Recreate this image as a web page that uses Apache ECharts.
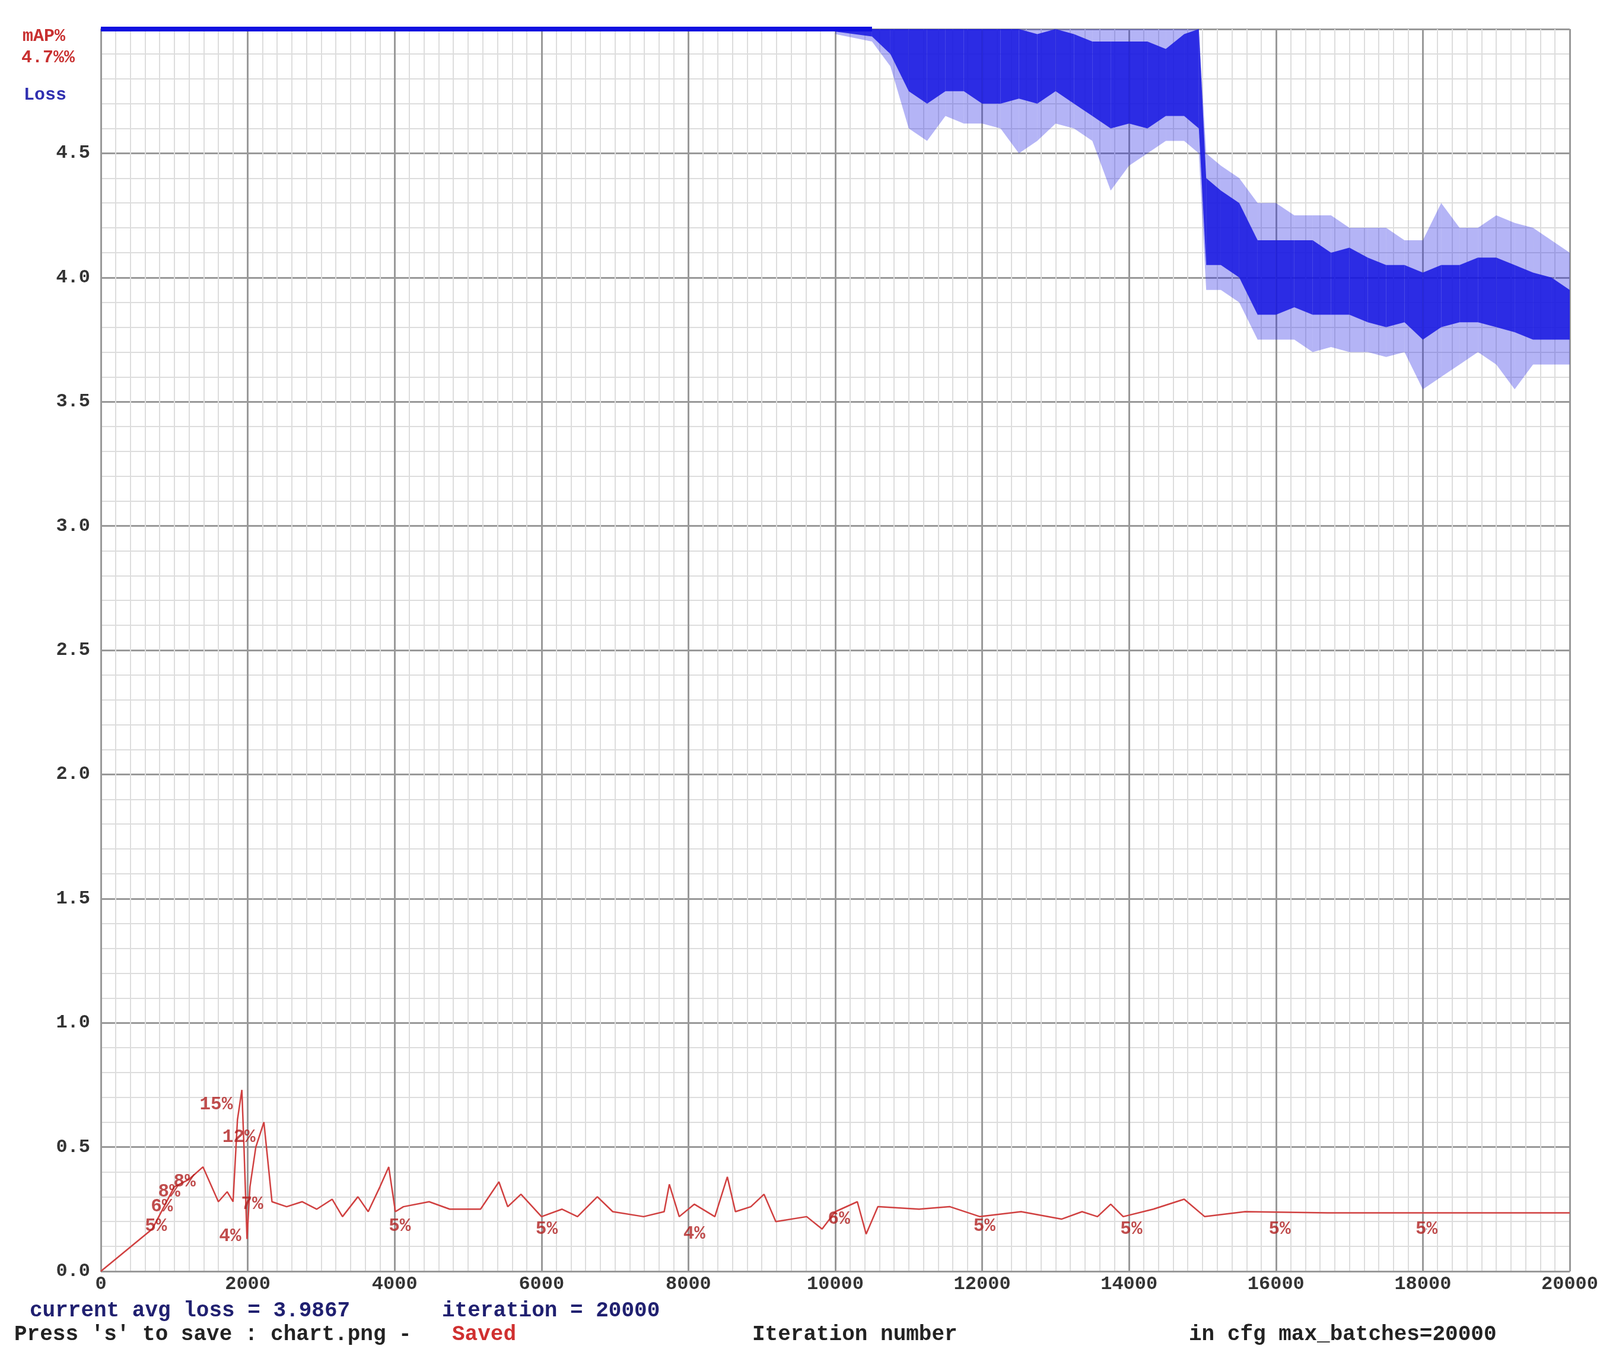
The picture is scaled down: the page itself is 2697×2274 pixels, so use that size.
<!DOCTYPE html>
<html>
<head>
<meta charset="utf-8">
<script src="https://cdn.jsdelivr.net/npm/echarts@6/dist/echarts.min.js"></script>
<style>html,body{margin:0;padding:0;background:#fff}#c{width:2697px;height:2274px}</style>
</head>
<body>
<div id="c"></div>
<script>
// loss band (iteration, core low/high, outer low/high)
var lossIter = [10000,10500,10750,11000,11250,11500,11750,12000,12250,12500,12750,13000,13250,13500,13750,14000,14250,14500,14750,14950,15050,15250,15500,15750,16000,16250,16500,16750,17000,17250,17500,17750,18000,18250,18500,18750,19000,19250,19500,19750,20000];
var lossLow  = [4.99,4.97,4.9,4.75,4.7,4.75,4.75,4.7,4.7,4.72,4.7,4.75,4.7,4.65,4.6,4.62,4.6,4.65,4.65,4.6,4.05,4.05,4.0,3.85,3.85,3.88,3.85,3.85,3.85,3.82,3.8,3.82,3.75,3.8,3.82,3.82,3.8,3.78,3.75,3.75,3.75];
var lossHigh = [5.0,5.0,5.0,5.0,5.0,5.0,5.0,5.0,5.0,5.0,4.98,5.0,4.98,4.95,4.95,4.95,4.95,4.92,4.98,5.0,4.4,4.35,4.3,4.15,4.15,4.15,4.15,4.1,4.12,4.08,4.05,4.05,4.02,4.05,4.05,4.08,4.08,4.05,4.02,4.0,3.95];
var lossMin  = [4.98,4.95,4.85,4.6,4.55,4.65,4.62,4.62,4.6,4.5,4.55,4.62,4.6,4.55,4.35,4.45,4.5,4.55,4.55,4.5,3.95,3.95,3.9,3.75,3.75,3.75,3.7,3.72,3.7,3.7,3.68,3.7,3.55,3.6,3.65,3.7,3.65,3.55,3.65,3.65,3.65];
var lossMax  = [5.0,5.0,5.0,5.0,5.0,5.0,5.0,5.0,5.0,5.0,5.0,5.0,5.0,5.0,5.0,5.0,5.0,5.0,5.0,5.0,4.5,4.45,4.4,4.3,4.3,4.25,4.25,4.25,4.2,4.2,4.2,4.15,4.15,4.3,4.2,4.2,4.25,4.22,4.2,4.15,4.1];
// loss above chart top (clipped at 5.0) before 10000
var clipIter = [0,10500];
var clipLoss = [5.0,5.0];
// mAP curve as plotted on the loss axis
var mapIter = [0,700,860,1000,1200,1390,1600,1720,1800,1860,1920,1950,1990,2030,2110,2220,2330,2530,2740,2940,3150,3290,3500,3640,3800,3920,4010,4120,4470,4750,5170,5420,5540,5720,6000,6280,6490,6760,6970,7390,7670,7740,7875,8080,8360,8530,8640,8850,9030,9190,9610,9820,10000,10300,10420,10580,11140,11560,11970,12530,13080,13360,13570,13750,13920,14330,14750,15030,15580,16700,20000];
var mapVal  = [0,0.17,0.26,0.34,0.37,0.42,0.28,0.32,0.28,0.61,0.73,0.49,0.13,0.34,0.5,0.6,0.28,0.26,0.28,0.25,0.29,0.22,0.3,0.24,0.34,0.42,0.24,0.26,0.28,0.25,0.25,0.36,0.26,0.31,0.22,0.25,0.22,0.3,0.24,0.22,0.24,0.35,0.22,0.27,0.22,0.38,0.24,0.26,0.31,0.2,0.22,0.17,0.24,0.28,0.15,0.26,0.25,0.26,0.22,0.24,0.21,0.24,0.22,0.27,0.22,0.25,0.29,0.22,0.24,0.235,0.235];
// mAP% labels and where they sit
var mapLabels = ['5%','6%','8%','8%','15%','12%','7%','4%','5%','5%','4%','6%','5%','5%','5%','5%'];
var mapLabelIter = [750,830,930,1140,1570,1880,2060,1760,4070,6070,8080,10050,12030,14030,16050,18050];
var mapLabelVal  = [0.18,0.26,0.32,0.36,0.67,0.54,0.27,0.14,0.18,0.17,0.15,0.21,0.18,0.17,0.17,0.17];
var xTicks = [0,2000,4000,6000,8000,10000,12000,14000,16000,18000,20000];

var chart = echarts.init(document.getElementById('c'));
var band = function (lo, hi) {
  var d = [];
  for (var i = 0; i < lossIter.length - 1; i++) {
    d.push([lossIter[i], lo[i], hi[i], lossIter[i + 1], lo[i + 1], hi[i + 1]]);
  }
  return d;
};
var renderBand = function (params, api) {
  var a = api.coord([api.value(0), api.value(1)]);
  var b = api.coord([api.value(3), api.value(4)]);
  var c = api.coord([api.value(3), api.value(5)]);
  var e = api.coord([api.value(0), api.value(2)]);
  return {type: 'polygon', shape: {points: [a, b, c, e]}, style: api.style()};
};
var mono = '"Liberation Mono", "DejaVu Sans Mono", monospace';
chart.setOption({
  animation: false,
  backgroundColor: '#fff',
  grid: {left: 170, right: 14, top: 49, bottom: 131},
  xAxis: {
    type: 'value', min: 0, max: 20000, interval: 2000,
    axisLine: {show: true, onZero: false, lineStyle: {color: '#999', width: 2}},
    axisTick: {show: false},
    axisLabel: {color: '#333', fontFamily: mono, fontWeight: 'bold', fontSize: 32, margin: 6,
      customValues: xTicks, formatter: function (v) { return String(v); }},
    splitLine: {lineStyle: {color: '#999', width: 3}},
    minorTick: {show: false, splitNumber: 10},
    minorSplitLine: {show: true, lineStyle: {color: '#ddd', width: 2}}
  },
  yAxis: {
    type: 'value', min: 0, max: 5, interval: 0.5,
    axisLine: {show: true, lineStyle: {color: '#999', width: 2}},
    axisTick: {show: false},
    axisLabel: {color: '#333', fontFamily: mono, fontWeight: 'bold', fontSize: 32, margin: 18,
      formatter: function (v) { return v >= 5 ? '' : v.toFixed(1); }},
    splitLine: {lineStyle: {color: '#999', width: 3}},
    minorTick: {show: false, splitNumber: 5},
    minorSplitLine: {show: true, lineStyle: {color: '#ddd', width: 2}}
  },
  series: [
    {type: 'custom', renderItem: renderBand, data: band(lossMin, lossMax),
      itemStyle: {color: 'rgba(40,40,230,0.35)'}, clip: true, z: 3},
    {type: 'custom', renderItem: renderBand, data: band(lossLow, lossHigh),
      itemStyle: {color: 'rgba(20,20,225,0.85)'}, clip: true, z: 4},
    {type: 'line', data: clipIter.map(function (x, i) { return [x, clipLoss[i]]; }),
      symbol: 'none', lineStyle: {color: '#1010e0', width: 8}, z: 5},
    {type: 'line', data: mapIter.map(function (x, i) { return [x, mapVal[i]]; }),
      symbol: 'none', lineStyle: {color: '#d04040', width: 2.5}, z: 6},
    {type: 'scatter', symbolSize: 0, z: 7,
      data: mapLabels.map(function (t, i) { return {value: [mapLabelIter[i], mapLabelVal[i]], name: t}; }),
      label: {show: true, position: 'inside', formatter: '{b}', color: '#b02020',
        fontFamily: mono, fontWeight: 'bold', fontSize: 31}}
  ],
  graphic: [
    {type: 'text', left: 38, top: 46, style: {text: 'mAP%', fill: '#c83030', font: 'bold 30px ' + mono}},
    {type: 'text', left: 36, top: 82, style: {text: '4.7%%', fill: '#c83030', font: 'bold 30px ' + mono}},
    {type: 'text', left: 40, top: 145, style: {text: 'Loss', fill: '#3030b0', font: 'bold 30px ' + mono}},
    {type: 'text', left: 50, top: 2192, style: {text: 'current avg loss = 3.9867', fill: '#202070', font: 'bold 36px ' + mono}},
    {type: 'text', left: 745, top: 2192, style: {text: 'iteration = 20000', fill: '#202070', font: 'bold 36px ' + mono}},
    {type: 'text', left: 24, top: 2232, style: {text: "Press 's' to save : chart.png -", fill: '#222', font: 'bold 36px ' + mono}},
    {type: 'text', left: 762, top: 2232, style: {text: 'Saved', fill: '#d03030', font: 'bold 36px ' + mono}},
    {type: 'text', left: 1268, top: 2232, style: {text: 'Iteration number', fill: '#222', font: 'bold 36px ' + mono}},
    {type: 'text', left: 2004, top: 2232, style: {text: 'in cfg max_batches=20000', fill: '#222', font: 'bold 36px ' + mono}}
  ]
});
</script>
</body>
</html>
